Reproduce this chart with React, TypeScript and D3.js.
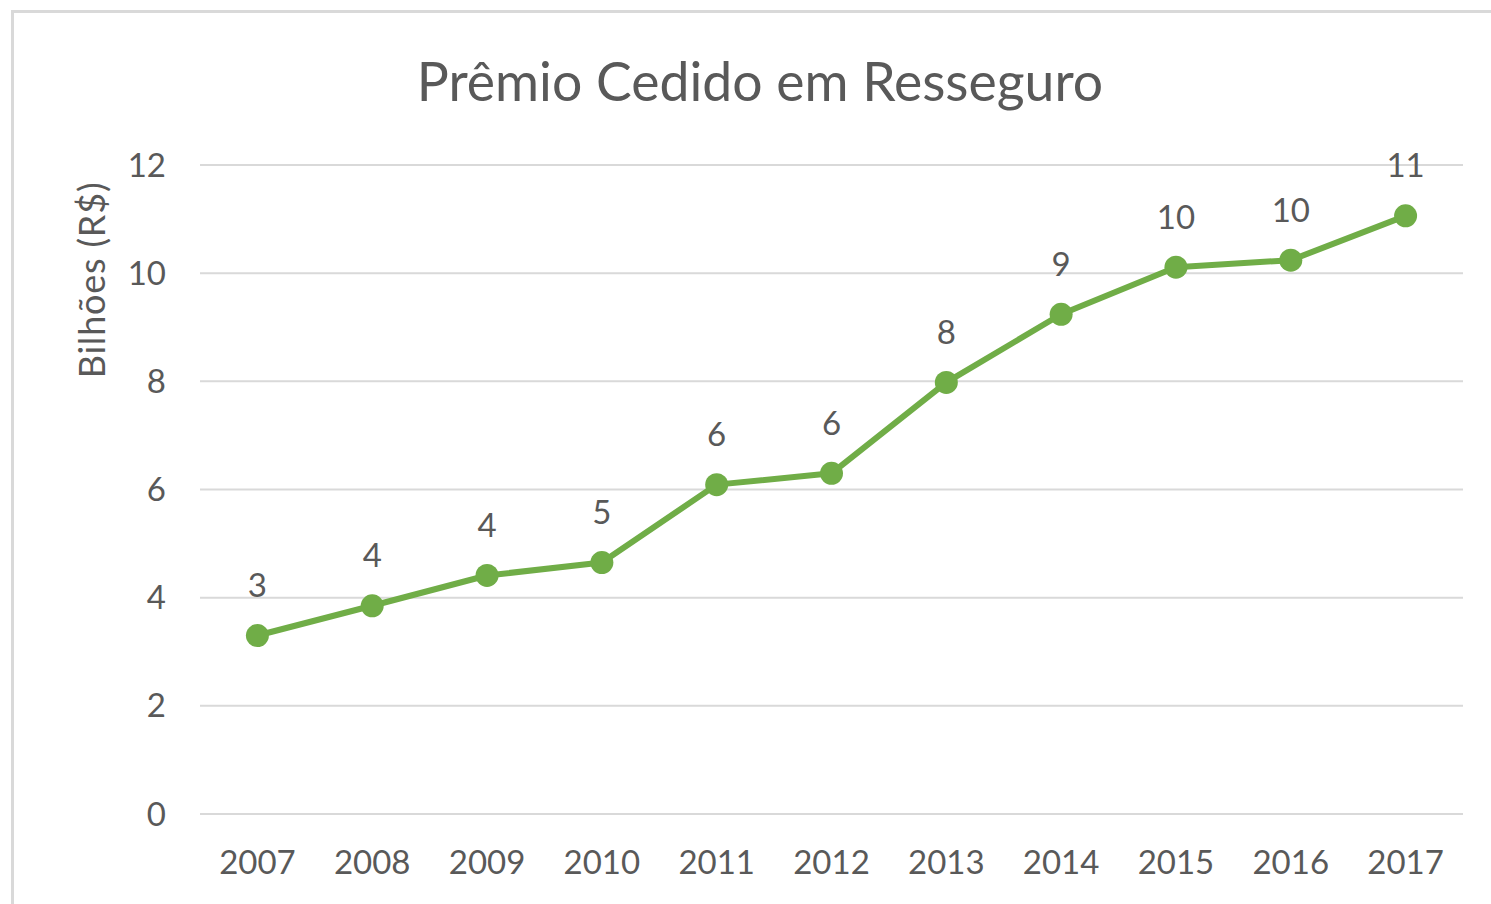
import React from "react";
import { scaleBand, scaleLinear, line } from "d3";

const years = ["2007", "2008", "2009", "2010", "2011", "2012", "2013", "2014", "2015", "2016", "2017"];
const premios = [3.3, 3.85, 4.41, 4.65, 6.09, 6.3, 7.98, 9.24, 10.11, 10.24, 11.06];
const yTicks = [0, 2, 4, 6, 8, 10, 12];

const W = 1491;
const H = 904;
const font = "Lato, 'Open Sans', sans-serif";
const textColor = "#595959";
const green = "#70AD47";

const App = () => {
  const x = scaleBand<string>().domain(years).range([200, 1463]);
  const y = scaleLinear().domain([0, 12]).range([814, 165]);
  const cx = (d: string) => (x(d) as number) + x.bandwidth() / 2;

  const path = line<number>()
    .x((_, i) => cx(years[i]))
    .y((d) => y(d))(premios);

  return (
    <svg
      width={W}
      height={H}
      style={{ position: "absolute", left: 0, top: 0, background: "#fff" }}
      fontFamily={font}
    >
      <rect x={12.5} y={11.5} width={W + 10} height={H + 10} fill="#fff" stroke="#d9d9d9" strokeWidth={3} />
      <text x={760} y={82} dy="0.35em" textAnchor="middle" fontSize={53.5} fill={textColor}>
        Prêmio Cedido em Resseguro
      </text>
      <text
        transform="translate(92,280) rotate(-90)"
        textAnchor="middle"
        dy="0.35em"
        fontSize={36}
        letterSpacing={0.8}
        fill={textColor}
      >
        Bilhões (R$)
      </text>
      {yTicks.map((t) => (
        <g key={t}>
          <line x1={200} x2={1463} y1={y(t)} y2={y(t)} stroke="#d9d9d9" strokeWidth={2} />
          <text x={166} y={y(t)} dy="0.35em" textAnchor="end" fontSize={33} fill={textColor}>
            {t}
          </text>
        </g>
      ))}
      {years.map((yr) => (
        <text key={yr} x={cx(yr)} y={862} dy="0.35em" textAnchor="middle" fontSize={33} fill={textColor}>
          {yr}
        </text>
      ))}
      <path d={path ?? ""} fill="none" stroke={green} strokeWidth={6} strokeLinejoin="round" />
      {premios.map((v, i) => (
        <g key={years[i]}>
          <circle cx={cx(years[i])} cy={y(v)} r={11.5} fill={green} />
          <text
            x={cx(years[i])}
            y={y(v) - 50}
            dy="0.35em"
            textAnchor="middle"
            fontSize={33}
            fill={textColor}
          >
            {Math.round(v)}
          </text>
        </g>
      ))}
    </svg>
  );
};

export default App;
